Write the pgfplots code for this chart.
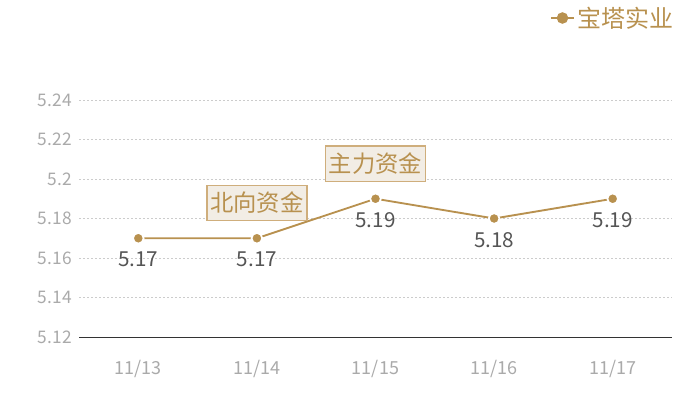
\documentclass[border=0pt]{standalone}
\usepackage{fontspec}
\setmainfont{Noto Sans CJK SC}
\usepackage{pgfplots}
\pgfplotsset{compat=1.18}
\definecolor{gold}{HTML}{B8914F}
\definecolor{ticktxt}{HTML}{AAAAAA}
\definecolor{valtxt}{HTML}{555555}
\definecolor{gridc}{HTML}{CCCCCC}
\definecolor{boxfill}{HTML}{F2EDE5}
\definecolor{boxdraw}{HTML}{CFAE7C}
\begin{document}
\begin{tikzpicture}
\begin{axis}[
    at={(59.25pt,47.25pt)}, anchor=south west,
    scale only axis,
    width=444.75pt, height=177.75pt,
    xmin=-0.5, xmax=4.5,
    ymin=5.12, ymax=5.24,
    xtick={0,1,2,3,4},
    xticklabels={11/13,11/14,11/15,11/16,11/17},
    ytick={5.12,5.14,5.16,5.18,5.2,5.22,5.24},
    /pgf/number format/assume math mode=true,
    axis x line=bottom, axis y line=left,
    x axis line style={-, color=black!80, line width=0.6pt},
    y axis line style={draw=none},
    major tick length=0pt,
    ymajorgrids,
    grid style={gridc, dash pattern=on 1.5pt off 1.5pt, line width=0.5pt},
    tick label style={font=\fontsize{13}{15}\selectfont, text=ticktxt},
    xticklabel style={yshift=-14pt, font=\fontsize{13.5}{15}\selectfont},
    yticklabel style={xshift=-2pt},
    legend style={at={(rel axis cs:1.007,1.346)}, anchor=east, draw=none, fill=none,
        inner sep=0pt, font=\fontsize{18}{20}\selectfont, text=gold},
    legend cell align=left,
    legend image code/.code={
        \draw[gold, line width=1.1pt] (0pt,0pt) -- (17pt,0pt);
        \fill[gold] (8.5pt,0pt) circle (3.6pt);
    },
    clip=false,
]
\addplot[gold, line width=1.4pt, mark=*, mark size=4pt,
    mark options={fill=gold, draw=white, line width=1.3pt},
    point meta=explicit symbolic,
    nodes near coords,
    every node near coord/.append style={anchor=center, yshift=-16pt,
        font=\fontsize{15.5}{17}\selectfont, text=valtxt}]
coordinates {(0,5.17) [5.17] (1,5.17) [5.17] (2,5.19) [5.19] (3,5.18) [5.18] (4,5.19) [5.19]};
\addlegendentry{宝塔实业}
\node[fill=boxfill, draw=boxdraw, line width=0.9pt, inner xsep=2.5pt, inner ysep=5pt,
    font=\fontsize{17.5}{19}\selectfont, text=gold] at (axis cs:1,5.188) {北向资金};
\node[fill=boxfill, draw=boxdraw, line width=0.9pt, inner xsep=2.5pt, inner ysep=5pt,
    font=\fontsize{17.5}{19}\selectfont, text=gold] at (axis cs:2,5.2078) {主力资金};
\end{axis}
\pgfresetboundingbox
\useasboundingbox (0pt,0pt) rectangle (525pt,300pt);
\end{tikzpicture}
\end{document}
